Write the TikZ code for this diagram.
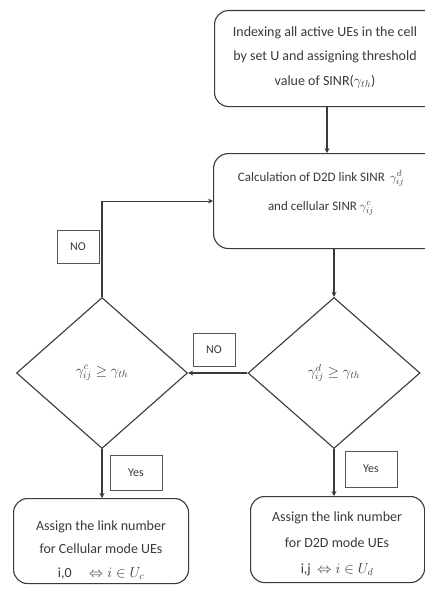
\documentclass[tikz,border=0pt]{standalone}
\usepackage{fontspec}
\setmainfont{Carlito}
\usetikzlibrary{shapes.geometric,arrows.meta}
\definecolor{ink}{HTML}{3A3A3A}
\definecolor{frame}{HTML}{555555}
\begin{document}
\begin{tikzpicture}[x=1pt,y=-1pt,
  flow/.style={draw=ink,line width=1.1pt},
  arr/.style={flow,-{Stealth[length=5pt,width=5pt]}},
  procbox/.style={draw=ink,line width=1.1pt,rounded corners=14pt,inner sep=0pt,anchor=north west},
  decision/.style={diamond,draw=ink,line width=1.1pt,inner sep=0pt},
  txt/.style={align=center,text=ink,inner sep=0pt,font=\fontsize{14}{24.5}\selectfont},
  tag/.style={draw=frame,line width=0.9pt,text=ink,inner sep=0pt,font=\fontsize{12}{14}\selectfont}
]
\useasboundingbox (0,0) rectangle (425,594);
\fill[white] (0,0) rectangle (425,594);
\clip (0,0) rectangle (425,594);

% process boxes (the two upper ones run past the right border)
\node[procbox,minimum width=240pt,minimum height=96pt] (b1) at (214,10) {};
\node[procbox,minimum width=232pt,minimum height=95pt,rounded corners=15pt] (b2) at (213,153) {};
\node[procbox,minimum width=175pt,minimum height=85pt] (b3) at (13,498) {};
\node[procbox,minimum width=174pt,minimum height=86pt] (b4) at (250,496) {};

\node[txt] (t1) at (325,57.5) {Indexing all active UEs in the cell\\by set U and assigning threshold\\value of SINR($\gamma_{th}$)};
\node[txt,font=\fontsize{13}{29}\selectfont] (t2) at (321,193) {Calculation of D2D link SINR\, $\gamma_{ij}^{d}$\\and cellular SINR $\gamma_{ij}^{c}$};
\node[txt,font=\fontsize{14}{23.5}\selectfont] (t3) at (101,550) {Assign the link number\\for Cellular mode UEs\\i,0 \quad $\Leftrightarrow i\in U_c$};
\node[txt,font=\fontsize{14}{26}\selectfont] (t4) at (337,544) {Assign the link number\\for D2D mode UEs\\i,j \ $\Leftrightarrow i\in U_d$};

% decisions
\node[decision,minimum width=171pt,minimum height=151pt] (d1) at (102,373) {};
\node[decision,minimum width=172pt,minimum height=151pt] (d2) at (334,373) {};
\node[text=ink,font=\fontsize{14}{16}\selectfont] (q1) at (102,373) {$\gamma_{ij}^{c}\geq\gamma_{th}$};
\node[text=ink,font=\fontsize{14}{16}\selectfont] (q2) at (334,373) {$\gamma_{ij}^{d}\geq\gamma_{th}$};

% connectors
\coordinate (k1) at (327,0);
\draw[arr] (k1 |- b1.south) -- (k1 |- b2.north);
\draw[arr] (d2.north |- b2.south) -- (d2.north);
\draw[arr] (d2.west) -- (d1.east);
\draw[arr] (d1.north) |- (b2.west);
\draw[arr] (d1.south) -- (d1.south |- b3.north);
\draw[arr] (d2.south) -- (d2.south |- b4.north);

% branch labels
\node[tag,minimum width=42pt,minimum height=33pt] (n1) at (78,246.5) {NO};
\node[tag,minimum width=42pt,minimum height=33pt] (n2) at (214,349.5) {NO};
\node[tag,minimum width=52pt,minimum height=35pt] (y1) at (136,472.5) {Yes};
\node[tag,minimum width=52pt,minimum height=36pt] (y2) at (371,469) {Yes};
\end{tikzpicture}
\end{document}
